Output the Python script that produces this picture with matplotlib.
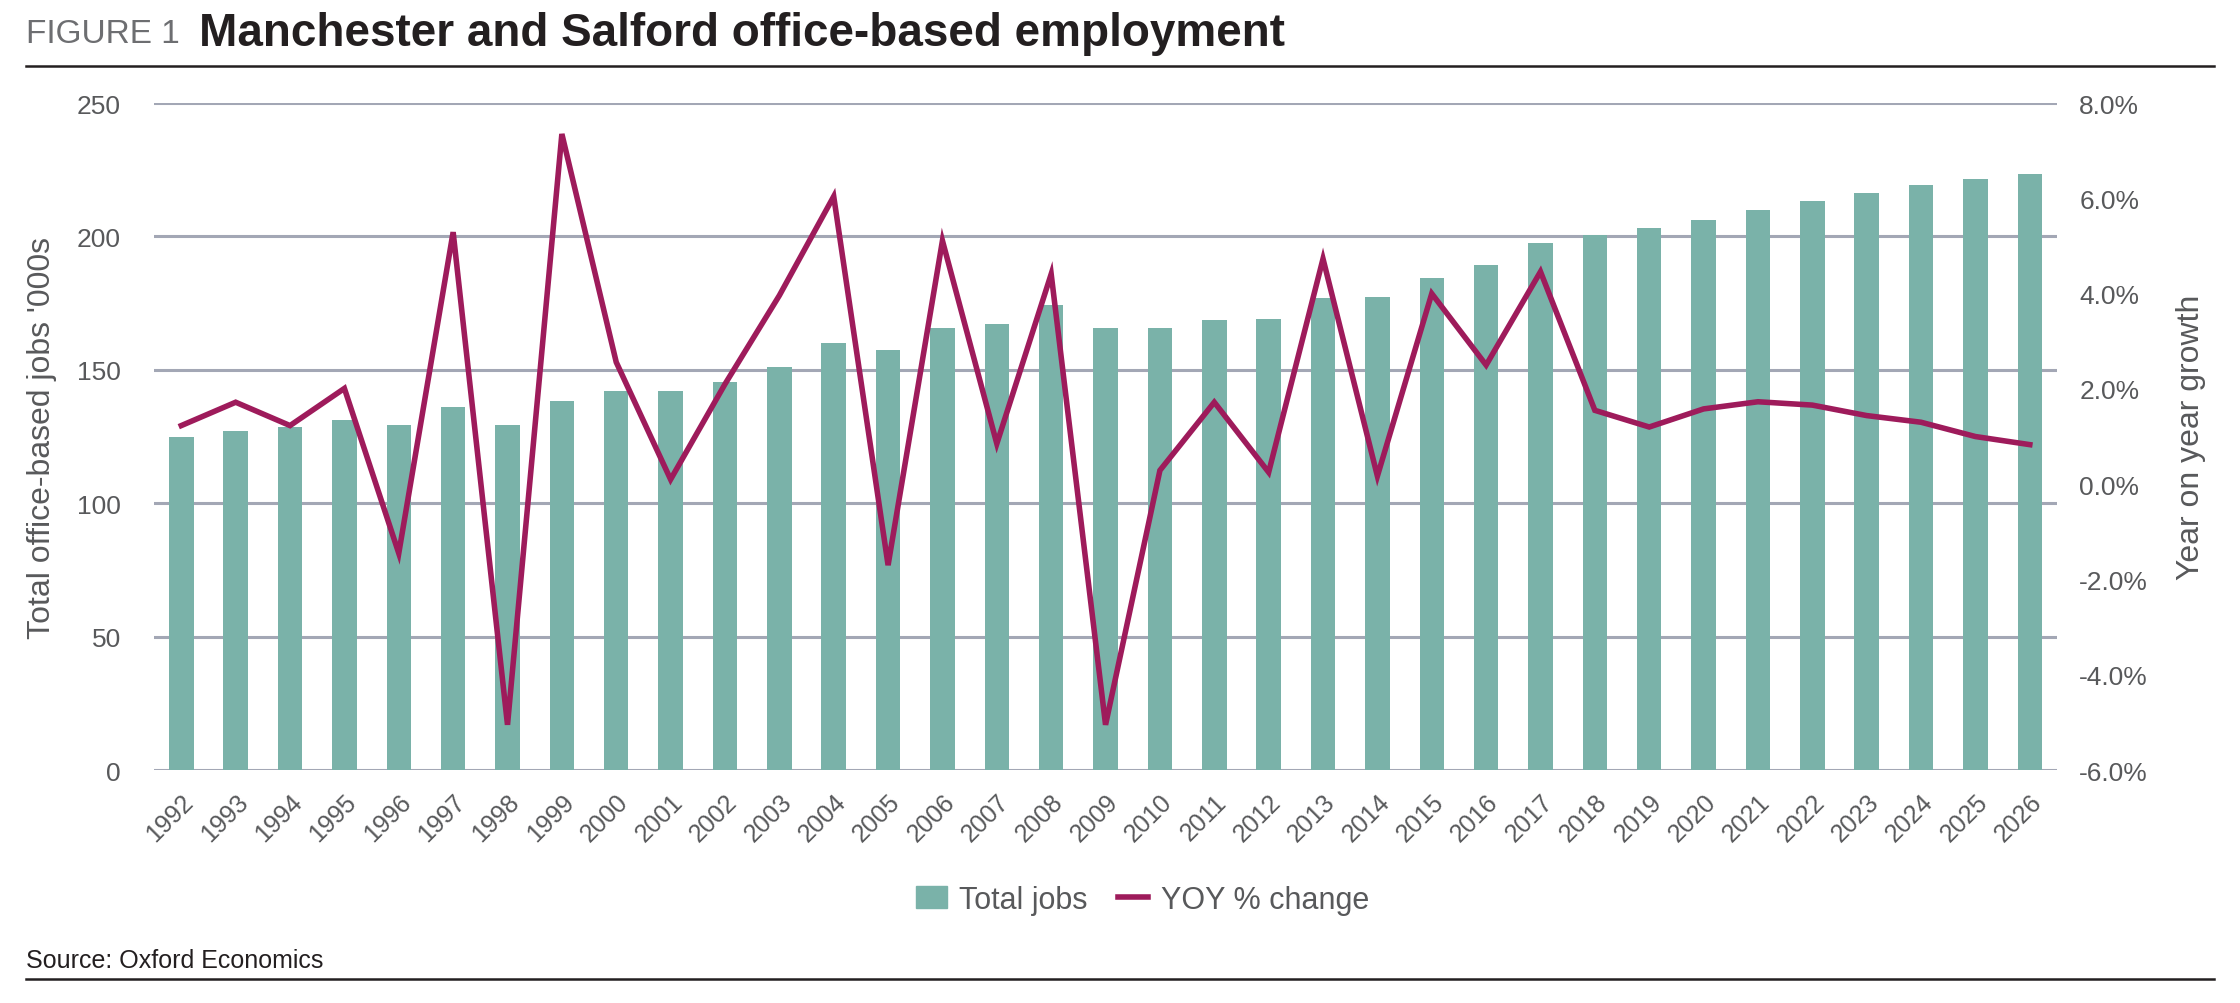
import numpy as np
import matplotlib
matplotlib.use('Agg')
import matplotlib.pyplot as plt
from matplotlib.patches import Patch
from matplotlib.lines import Line2D

#-------------------------------------------------------------------------------
# data
years = [str(y) for y in range(1992, 2027)]
total_jobs = [124.7, 126.9, 128.4, 131.2, 129.2, 135.9, 129.2, 138.5, 142.1, 142.1,
              145.3, 151.2, 160.2, 157.6, 165.5, 167.0, 174.2, 165.5, 165.8, 168.8,
              169.2, 177.1, 177.3, 184.5, 189.2, 197.6, 200.6, 203.1, 206.2, 210.0,
              213.3, 216.4, 219.3, 221.6, 223.4]
yoy_change = [1.23, 1.72, 1.23, 2.01, -1.45, 5.29, -5.05, 7.35, 2.56, 0.10,
              2.10, 3.96, 6.04, -1.70, 5.11, 0.85, 4.41, -5.05, 0.29, 1.72,
              0.25, 4.73, 0.17, 4.00, 2.50, 4.46, 1.55, 1.20, 1.58, 1.73,
              1.66, 1.44, 1.30, 1.00, 0.83]
left_ticks = [0, 50, 100, 150, 200, 250]
right_ticks = [-6, -4, -2, 0, 2, 4, 6, 8]

#-------------------------------------------------------------------------------
bar_col = '#7AB2A9'
line_col = '#9E1B5B'
grid_col = '#A3A7B5'
txt_col = '#58595B'
plt.rcParams['font.family'] = ['Liberation Sans', 'DejaVu Sans']

fig = plt.figure(figsize=(22.4, 10.04), dpi=100)
ax = fig.add_axes([0.0688, 0.232, 0.8495, 0.6644])
x = np.arange(len(years))
ax.bar(x, total_jobs, width=0.45, color=bar_col, zorder=2)
ax.set_ylim(0, 250)
ax.set_xlim(-0.5, len(years) - 0.5)
ax.set_yticks(left_ticks)
for v in left_ticks:
    ax.axhline(v, color=grid_col, lw=2.2, zorder=1)
for s in ax.spines.values():
    s.set_visible(False)
ax.tick_params(axis='y', length=0, pad=24, labelsize=19, labelcolor=txt_col)
ax.set_xticks(x)
ax.set_xticklabels(years, rotation=45, ha='right', rotation_mode='anchor')
ax.tick_params(axis='x', length=0, pad=14, labelsize=18, labelcolor=txt_col)
ax.set_ylabel("Total office-based jobs '000s", fontsize=23, color=txt_col, labelpad=14)

ax2 = ax.twinx()
ax2.plot(x, yoy_change, color=line_col, lw=4, zorder=3, solid_joinstyle='miter')
ax2.set_ylim(-6, 8)
ax2.set_yticks(right_ticks)
ax2.set_yticklabels(['%.1f%%' % v for v in right_ticks])
for s in ax2.spines.values():
    s.set_visible(False)
ax2.tick_params(axis='y', length=0, pad=16, labelsize=19, labelcolor=txt_col)
ax2.set_ylabel('Year on year growth', fontsize=23, color=txt_col, labelpad=20)

# legend
handles = [Patch(color=bar_col), Line2D([0], [0], color=line_col, lw=4)]
fig.legend(handles, ['Total jobs', 'YOY % change'], loc='center', bbox_to_anchor=(0.510, 0.103),
           ncol=2, frameon=False, fontsize=22, labelcolor=txt_col, handlelength=1.0,
           handletextpad=0.4, columnspacing=1.0)

# title, source, rules
fig.text(0.0116, 0.966, 'FIGURE 1', fontsize=24, color='#6D6E71', va='center', ha='left')
fig.text(0.0890, 0.966, 'Manchester and Salford office-based employment', fontsize=33,
         fontweight='bold', color='#231F20', va='center', ha='left')
fig.add_artist(Line2D([0.0116, 0.9884], [0.933, 0.933], color='#231F20', lw=1.8))
fig.text(0.0116, 0.043, 'Source: Oxford Economics', fontsize=18, color='#231F20', va='center', ha='left')
fig.add_artist(Line2D([0.0116, 0.9884], [0.024, 0.024], color='#231F20', lw=1.8))

plt.savefig('out.png', dpi=100)
plt.close()
